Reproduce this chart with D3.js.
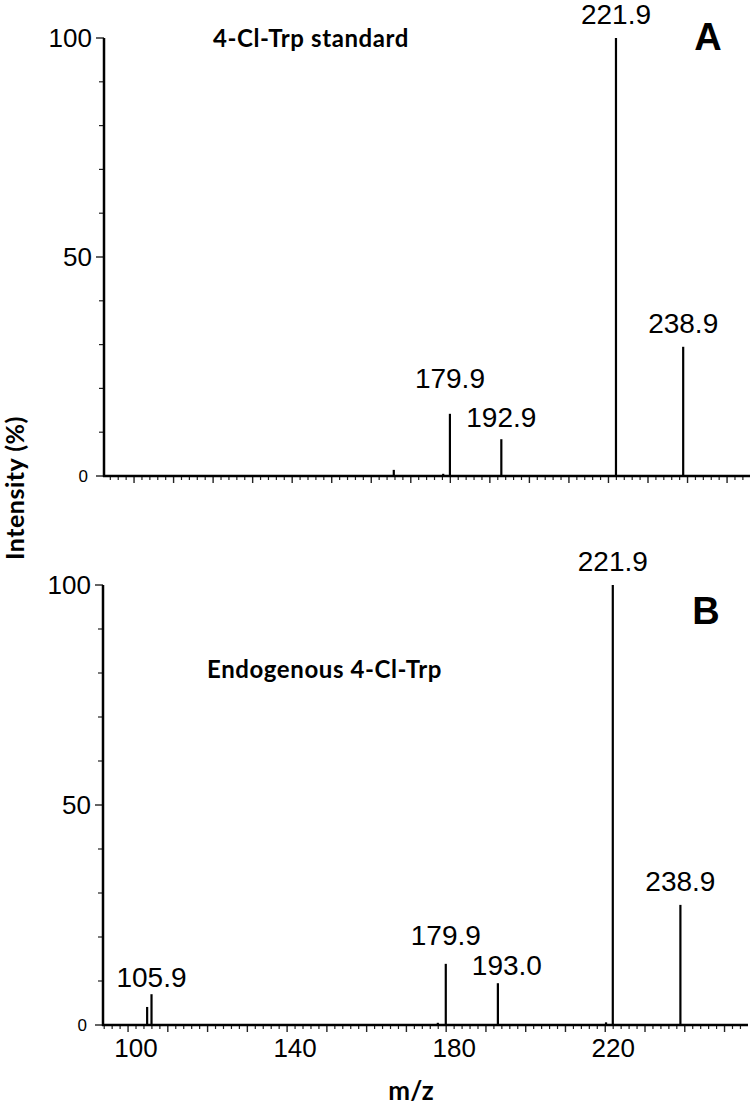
<!DOCTYPE html>
<html>
<head>
<meta charset="utf-8">
<script src="https://cdn.jsdelivr.net/npm/d3@7"></script>
<style>
  body { margin: 0; background: #fff; }
  svg { display: block; }
</style>
</head>
<body>
<div id="container"></div>
<script>
// peaks, m/z and relative intensity (%)
let mzA = [165.7, 178.2, 179.9, 192.9, 221.9, 238.9];
let intA = [1.4, 0.5, 14.2, 8.4, 100, 29.5];
let labA = ["", "", "179.9", "192.9", "221.9", "238.9"];

let mzB = [104.8, 105.9, 177.9, 179.9, 193.0, 220.2, 221.9, 238.9];
let intB = [4.1, 7.0, 0.5, 13.9, 9.5, 0.6, 100, 27.3];
let labB = ["", "105.9", "", "179.9", "193.0", "", "221.9", "238.9"];

let yMajor = [0, 50, 100];
let yMinor = [10, 20, 30, 40, 60, 70, 80, 90];
let xLabels = [100, 140, 180, 220];

let w = 752;
let h = 1108;

let viz = d3.select("#container")
  .append("svg")
    .attr("width", w)
    .attr("height", h)
;

let panels = [
  { mz: mzA, inten: intA, lab: labA, letter: "A", title: "4-Cl-Trp standard",
    domain: [92.4, 255.8], left: 104, right: 750, top: 38, bottom: 476,
    titleX: 213, titleY: 47, letterX: 708, letterY: 50, showX: false,
    lift: { "179.9": 12, "192.9": -2 }, shift: {} },
  { mz: mzB, inten: intB, lab: labB, letter: "B", title: "Endogenous 4-Cl-Trp",
    domain: [93.7, 255.9], left: 103, right: 748, top: 585, bottom: 1025,
    titleX: 207, titleY: 678, letterX: 706, letterY: 624, showX: true,
    lift: { "179.9": 5, "193.0": -6, "105.9": -7 }, shift: { "193.0": 9 } }
];

panels.forEach(function(p){
  let g = viz.append("g");

  let xScale = d3.scaleLinear().domain(p.domain).range([p.left, p.right]);
  let yScale = d3.scaleLinear().domain([0, 100]).range([p.bottom, p.top]);

  // x ticks: small every 2, bigger every 10
  let small = d3.range(94, 256, 2).filter(function(d){ return d % 10 != 0; });
  let big = d3.range(100, 256, 10);
  g.selectAll(".xs").data(small).enter()
    .append("line")
      .attr("x1", function(d){ return xScale(d); })
      .attr("x2", function(d){ return xScale(d); })
      .attr("y1", p.bottom)
      .attr("y2", p.bottom + 4)
      .attr("stroke", "#222")
      .attr("stroke-width", 1.2)
  ;
  g.selectAll(".xb").data(big).enter()
    .append("line")
      .attr("x1", function(d){ return xScale(d); })
      .attr("x2", function(d){ return xScale(d); })
      .attr("y1", p.bottom)
      .attr("y2", p.bottom + 7)
      .attr("stroke", "#222")
      .attr("stroke-width", 1.4)
  ;

  if(p.showX){
    g.selectAll(".xl").data(xLabels).enter()
      .append("text")
        .attr("x", function(d){ return xScale(d) + 8; })
        .attr("y", p.bottom + 32)
        .attr("text-anchor", "middle")
        .attr("font-family", "Liberation Sans, Arial, sans-serif")
        .attr("font-size", "26px")
        .text(function(d){ return d; })
    ;
  }

  // y ticks
  g.selectAll(".ym").data(yMinor).enter()
    .append("line")
      .attr("x1", p.left - 5)
      .attr("x2", p.left)
      .attr("y1", function(d){ return yScale(d); })
      .attr("y2", function(d){ return yScale(d); })
      .attr("stroke", "#222")
      .attr("stroke-width", 1.2)
  ;
  g.selectAll(".yM").data(yMajor).enter()
    .append("line")
      .attr("x1", p.left - 8)
      .attr("x2", p.left)
      .attr("y1", function(d){ return yScale(d); })
      .attr("y2", function(d){ return yScale(d); })
      .attr("stroke", "#222")
      .attr("stroke-width", 1.4)
  ;
  g.selectAll(".yl").data(yMajor).enter()
    .append("text")
      .attr("x", function(d){ return d == 0 ? p.left - 16 : p.left - 12; })
      .attr("y", function(d){ return yScale(d); })
      .attr("dy", "0.36em")
      .attr("text-anchor", "end")
      .attr("font-family", "Liberation Sans, Arial, sans-serif")
      .attr("font-size", function(d){ return d == 0 ? "17px" : "26px"; })
      .text(function(d){ return d; })
  ;

  // peaks
  let peaks = p.mz.map(function(m, i){
    return { mz: m, inten: p.inten[i], lab: p.lab[i] };
  });
  g.selectAll(".peak").data(peaks).enter()
    .append("line")
      .attr("x1", function(d){ return xScale(d.mz); })
      .attr("x2", function(d){ return xScale(d.mz); })
      .attr("y1", p.bottom)
      .attr("y2", function(d){ return yScale(d.inten); })
      .attr("stroke", "#000")
      .attr("stroke-width", 2.2)
  ;
  g.selectAll(".plab").data(peaks.filter(function(d){ return d.lab != ""; })).enter()
    .append("text")
      .attr("x", function(d){ return xScale(d.mz) + (p.shift[d.lab] || 0); })
      .attr("y", function(d){ return yScale(d.inten) - 14 - (p.lift[d.lab] || 0); })
      .attr("text-anchor", "middle")
      .attr("font-family", "Liberation Sans, Arial, sans-serif")
      .attr("font-size", "28px")
      .text(function(d){ return d.lab; })
  ;

  // axes lines
  g.append("line")
    .attr("x1", p.left).attr("x2", p.left)
    .attr("y1", p.top).attr("y2", p.bottom + 1)
    .attr("stroke", "#000").attr("stroke-width", 2.5);
  g.append("line")
    .attr("x1", p.left - 1).attr("x2", p.right)
    .attr("y1", p.bottom).attr("y2", p.bottom)
    .attr("stroke", "#000").attr("stroke-width", 2.5);

  g.append("text")
    .attr("x", p.titleX)
    .attr("y", p.titleY)
    .attr("font-family", "Lato, sans-serif")
    .attr("font-weight", "bold")
    .attr("font-size", "24px")
    .attr("letter-spacing", "0.6px")
    .text(p.title);

  g.append("text")
    .attr("x", p.letterX)
    .attr("y", p.letterY)
    .attr("text-anchor", "middle")
    .attr("font-family", "Liberation Sans, Arial, sans-serif")
    .attr("font-weight", "bold")
    .attr("font-size", "38px")
    .text(p.letter);
});

viz.append("text")
  .attr("transform", "translate(24,488) rotate(-90)")
  .attr("text-anchor", "middle")
  .attr("font-family", "Lato, sans-serif")
  .attr("font-weight", "bold")
  .attr("font-size", "25px")
  .attr("letter-spacing", "0.5px")
  .text("Intensity (%)");

viz.append("text")
  .attr("x", 411)
  .attr("y", 1100)
  .attr("text-anchor", "middle")
  .attr("font-family", "Lato, sans-serif")
  .attr("font-weight", "bold")
  .attr("font-size", "26px")
  .text("m/z");
</script>
</body>
</html>
